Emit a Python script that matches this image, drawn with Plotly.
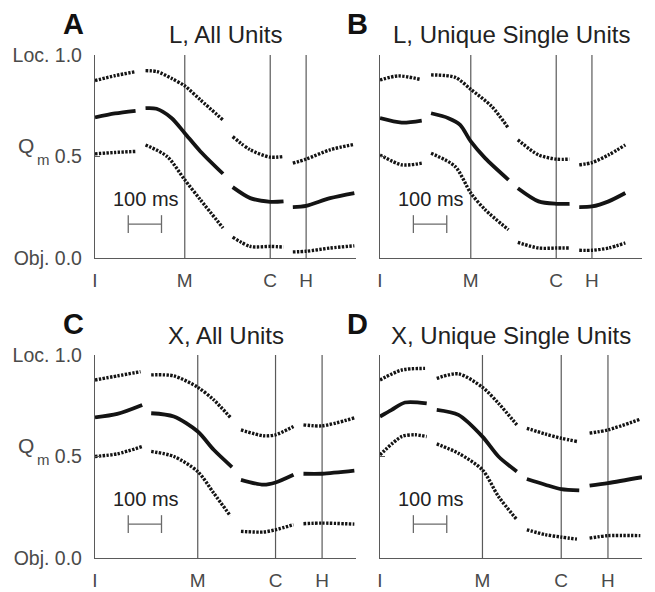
import plotly.graph_objects as go

# ---------------- data (time in ms from I; Qm values) ----------------
PANEL_LETTERS = ["A", "B", "C", "D"]
PANEL_TITLES = ["L, All Units", "L, Unique Single Units", "X, All Units", "X, Unique Single Units"]
EVENT_LABELS = ["I", "M", "C", "H"]
Y_TICKS = [0.0, 0.5, 1.0]
Y_TICKTEXT = ["Obj. 0.0", "0.5", "Loc. 1.0"]

A_events = [0, 270, 527, 635]
B_events = [0, 272, 528, 635]
C_events = [0, 309, 543, 683]
D_events = [0, 307, 543, 683]

# None separates the epochs (I, M, C, H)
A_t_mean = [0, 60, 122, None, 152, 185, 230, 270, 317, 385, None, 414, 467, 527, 567, None, 595, 635, 707, 780]
A_mean = [.693, .712, .725, None, .738, .735, .69, .615, .525, .415, None, .349, .295, .277, .279, None, .251, .257, .295, .32]
A_t_up = [0, 60, 122, None, 152, 187, 230, 270, 317, 385, None, 414, 467, 527, 567, None, 595, 635, 707, 780]
A_up = [.874, .898, .918, None, .923, .918, .885, .848, .779, .680, None, .598, .533, .497, .500, None, .467, .487, .533, .56]
A_t_lo = [0, 60, 122, None, 152, 217, 270, 317, 385, None, 414, 467, 527, 567, None, 595, 635, 707, 780]
A_lo = [.513, .52, .525, None, .557, .5, .385, .287, .148, None, .103, .057, .057, .054, None, .03, .033, .049, .06]

B_t_mean = [0, 65, 125, None, 153, 205, 240, 272, 315, 385, None, 413, 475, 528, 568, None, 597, 635, 685, 735]
B_mean = [.689, .667, .677, None, .713, .689, .656, .574, .492, .385, None, .344, .279, .267, .267, None, .251, .254, .279, .320]
B_t_up = [0, 55, 120, None, 153, 225, 272, 335, 385, None, 413, 475, 528, 568, None, 597, 635, 685, 735]
B_up = [.877, .897, .880, None, .902, .890, .831, .746, .639, None, .582, .508, .487, .487, None, .459, .470, .508, .557]
B_t_lo = [0, 65, 125, None, 153, 225, 272, 315, 385, None, 413, 475, 528, 568, None, 597, 635, 685, 735]
B_lo = [.508, .459, .467, None, .516, .451, .320, .238, .139, None, .077, .049, .049, .049, None, .038, .038, .049, .074]

C_t_mean = [0, 67, 142, None, 169, 237, 309, 357, 412, None, 439, 507, 543, 597, None, 627, 683, 780]
C_mean = [.693, .710, .754, None, .713, .697, .623, .533, .448, None, .385, .361, .372, .410, None, .415, .415, .43]
C_t_up = [0, 67, 137, None, 169, 237, 309, 357, 407, None, 439, 507, 543, 597, None, 627, 683, 780]
C_up = [.877, .897, .918, None, .902, .897, .841, .779, .693, None, .631, .602, .607, .648, None, .656, .651, .69]
C_t_lo = [0, 67, 142, None, 169, 237, 309, 357, 407, None, 439, 507, 543, 597, None, 627, 683, 780]
C_lo = [.5, .513, .549, None, .525, .5, .426, .320, .208, None, .131, .128, .139, .164, None, .169, .172, .167]

D_t_mean = [0, 35, 75, 140, None, 170, 235, 307, 355, 410, None, 440, 495, 543, 597, None, 628, 683, 785]
D_mean = [.697, .730, .766, .762, None, .730, .705, .598, .5, .426, None, .389, .361, .339, .333, None, .356, .369, .398]
D_t_up = [0, 65, 135, None, 170, 235, 307, 355, 410, None, 440, 495, 543, 590, None, 628, 683, 780]
D_up = [.877, .926, .934, None, .885, .907, .841, .762, .656, None, .639, .611, .590, .574, None, .615, .631, .684]
D_t_lo = [0, 65, 105, 140, None, 170, 235, 307, 355, 410, None, 440, 495, 543, 590, None, 628, 683, 780]
D_lo = [.508, .598, .607, .598, None, .562, .516, .434, .303, .189, None, .139, .115, .103, .093, None, .098, .110, .110]

SCALEBAR_MS = [100, 200]
SCALEBAR_Y = 0.167
SCALEBAR_CAP = [0.123, 0.211]
SCALEBAR_TEXT = "100 ms"
X_RANGE = [0, 785]

panels = [
    (A_events, A_t_mean, A_mean, A_t_up, A_up, A_t_lo, A_lo),
    (B_events, B_t_mean, B_mean, B_t_up, B_up, B_t_lo, B_lo),
    (C_events, C_t_mean, C_mean, C_t_up, C_up, C_t_lo, C_lo),
    (D_events, D_t_mean, D_mean, D_t_up, D_up, D_t_lo, D_lo),
]

# ---------------- layout ----------------
W, H = 655, 592
FONT = "Liberation Sans, Arial, sans-serif"
AXC = "#5a5a5a"
TXT = "#4a4a4a"
INK = "#141414"

xdom = [[95 / W, 356 / W], [380 / W, 642 / W]]
ydom = [[1 - 258 / H, 1 - 55 / H], [1 - 558 / H, 1 - 355 / H]]

fig = go.Figure()
layout = dict(
    width=W, height=H, margin=dict(l=0, r=0, t=0, b=0, autoexpand=False),
    paper_bgcolor="white", plot_bgcolor="white", showlegend=False,
    font=dict(family=FONT, color=TXT),
)
shapes = []
annotations = []

for i, (ev, tm, m, tu, u, tl, l) in enumerate(panels):
    n = i + 1
    row, col = divmod(i, 2)
    xa = "x" if n == 1 else f"x{n}"
    ya = "y" if n == 1 else f"y{n}"
    xkey = "xaxis" if n == 1 else f"xaxis{n}"
    ykey = "yaxis" if n == 1 else f"yaxis{n}"
    layout[xkey] = dict(
        domain=xdom[col], anchor=ya, range=X_RANGE, showgrid=False, zeroline=False,
        showline=True, linecolor=AXC, linewidth=1.3, ticks="", automargin=False,
        tickvals=ev, ticktext=EVENT_LABELS, ticklabelstandoff=5,
        tickfont=dict(size=19, color=TXT, family=FONT), fixedrange=True,
    )
    layout[ykey] = dict(
        domain=ydom[row], anchor=xa, range=[0, 1], showgrid=False, zeroline=False,
        showline=True, linecolor=AXC, linewidth=1.3, ticks="inside", ticklen=5,
        tickcolor=AXC, tickwidth=1.3, tickvals=Y_TICKS, ticktext=Y_TICKTEXT,
        showticklabels=(col == 0), ticklabelstandoff=8, automargin=False,
        tickfont=dict(size=19.5, color=TXT, family=FONT), fixedrange=True,
    )
    for tt, vv in ((tu, u), (tl, l)):
        fig.add_trace(go.Scatter(
            x=tt, y=vv, xaxis=xa, yaxis=ya, mode="lines", connectgaps=False,
            line=dict(color=INK, width=3.4, dash="2.4px,1.4px", shape="spline", smoothing=0.8),
            hoverinfo="skip"))
    fig.add_trace(go.Scatter(
        x=tm, y=m, xaxis=xa, yaxis=ya, mode="lines", connectgaps=False,
        line=dict(color=INK, width=3.8, shape="spline", smoothing=0.8), hoverinfo="skip"))

    # event lines
    for e in ev[1:]:
        shapes.append(dict(type="line", xref=xa, yref=ya, x0=e, x1=e, y0=0, y1=1,
                           line=dict(color=AXC, width=1.2), layer="below"))
    # scale bar
    shapes.append(dict(type="line", xref=xa, yref=ya, x0=SCALEBAR_MS[0], x1=SCALEBAR_MS[1],
                       y0=SCALEBAR_Y, y1=SCALEBAR_Y, line=dict(color="#6a6a6a", width=1.3)))
    for sx in SCALEBAR_MS:
        shapes.append(dict(type="line", xref=xa, yref=ya, x0=sx, x1=sx,
                           y0=SCALEBAR_CAP[0], y1=SCALEBAR_CAP[1], line=dict(color="#6a6a6a", width=1.3)))
    annotations.append(dict(xref=xa, yref=ya, x=sum(SCALEBAR_MS) / 2 + 4, y=0.29, text=SCALEBAR_TEXT,
                            showarrow=False, xanchor="center", yanchor="middle",
                            font=dict(size=20, color="#222222", family=FONT)))

    # titles and letters
    yoff = row * 300
    cx = (xdom[col][0] + xdom[col][1]) / 2
    annotations.append(dict(xref="paper", yref="paper", x=cx, y=1 - (35 + yoff) / H,
                            text=PANEL_TITLES[i], showarrow=False, xanchor="center", yanchor="middle",
                            font=dict(size=24, color="#222222", family=FONT)))
    lx = [73, 357][col]
    annotations.append(dict(xref="paper", yref="paper", x=lx / W, y=1 - (24 + yoff) / H,
                            text=f"<b>{PANEL_LETTERS[i]}</b>", showarrow=False,
                            xanchor="center", yanchor="middle",
                            font=dict(size=29, color="#111111", family=FONT)))
    if col == 0:
        annotations.append(dict(xref="paper", yref="paper", x=16 / W, y=1 - (145 + yoff) / H,
                                text="Q", showarrow=False, xanchor="left", yanchor="middle",
                                font=dict(size=21, color=TXT, family=FONT)))
        annotations.append(dict(xref="paper", yref="paper", x=35 / W, y=1 - (159 + yoff) / H,
                                text="m", showarrow=False, xanchor="left", yanchor="middle",
                                font=dict(size=15, color=TXT, family=FONT)))

layout["shapes"] = shapes
layout["annotations"] = annotations
fig.update_layout(**layout)
fig.write_html("out.html")
